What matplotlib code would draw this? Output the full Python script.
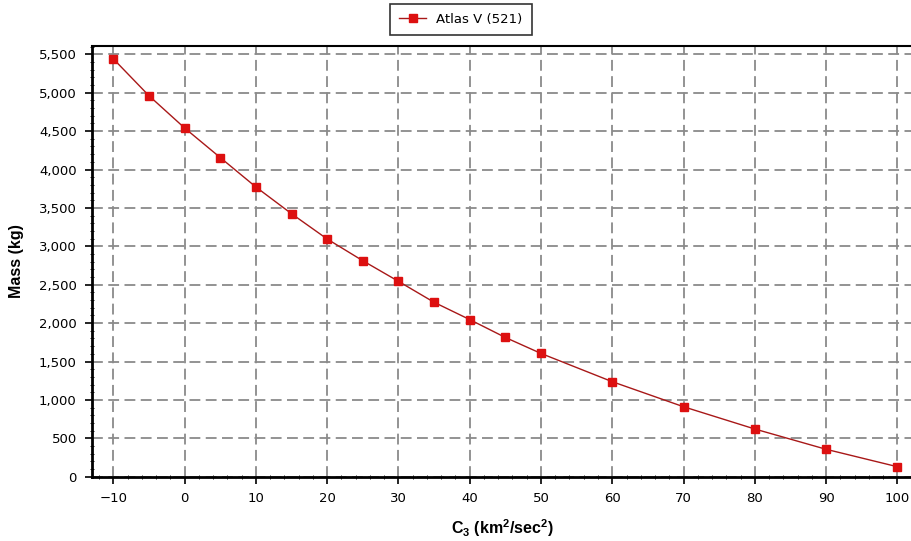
import matplotlib
matplotlib.use("Agg")
import matplotlib.pyplot as plt
from matplotlib.ticker import MultipleLocator, FuncFormatter

c3 = [-10, -5, 0, 5, 10, 15, 20, 25, 30, 35, 40, 45, 50, 60, 70, 80, 90, 100]
mass = [5440, 4960, 4540, 4155, 3772, 3424, 3095, 2812, 2544, 2271, 2046, 1813,
        1605, 1237, 911, 621, 357, 130]
series_name = "Atlas V (521)"
xlabel = r"$\mathbf{C_3}$ (km$^\mathbf{2}$/sec$^\mathbf{2}$)"
ylabel = "Mass (kg)"

plt.rcParams['mathtext.fontset'] = 'custom'
plt.rcParams['mathtext.bf'] = 'Liberation Sans:bold'
plt.rcParams['mathtext.rm'] = 'Liberation Sans'

fig = plt.figure(figsize=(9.12, 5.41), dpi=100)
ax = fig.add_axes([92/912, 1 - 476.7/541, 1 - 92/912, (476.7 - 45.7)/541])

ax.plot(c3, mass, color='#a81818', lw=1.0, marker='s', markersize=5.5,
        markerfacecolor='#dd1010', markeredgecolor='#dd1010', label=series_name,
        zorder=3)

ax.set_xlim(-13, 102.06)
ax.set_ylim(0, 5612)
ax.xaxis.set_major_locator(MultipleLocator(10))
ax.xaxis.set_minor_locator(MultipleLocator(2))
ax.yaxis.set_major_locator(MultipleLocator(500))
ax.yaxis.set_minor_locator(MultipleLocator(100))
ax.yaxis.set_major_formatter(FuncFormatter(lambda v, p: f"{int(v):,}"))

ax.grid(True, which='major', color='#8a8a8a', linestyle=(0, (6, 3)), lw=1.3)
ax.spines['right'].set_visible(False)
ax.spines['left'].set_linewidth(2.0)
ax.spines['bottom'].set_linewidth(2.0)
ax.spines['top'].set_linewidth(1.5)

ax.tick_params(which='major', direction='out', length=5, width=1.2, pad=6, colors='black')
ax.tick_params(which='minor', direction='inout', length=2.5, width=0.6)
for lab in ax.get_xticklabels() + ax.get_yticklabels():
    lab.set_fontfamily('DejaVu Sans')
    lab.set_fontsize(9.5)

ax.set_xlabel(xlabel, fontsize=11.5, fontweight='bold', family='Liberation Sans', labelpad=9)
ax.set_ylabel(ylabel, fontsize=11.5, fontweight='bold', family='Liberation Sans', labelpad=11)

leg = fig.legend(loc='upper center', bbox_to_anchor=(461/912, 1 - 3.6/541),
                 borderaxespad=0.0,
                 frameon=True, fancybox=False, edgecolor='black',
                 prop=dict(family='DejaVu Sans', size=9.5),
                 handlelength=2.0, borderpad=0.7)
leg.get_frame().set_linewidth(1.2)

fig.savefig("out.png", dpi=100)
